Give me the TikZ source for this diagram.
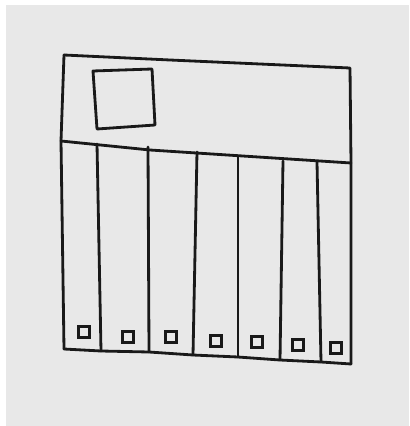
\documentclass[tikz,border=0pt]{standalone}
\usepackage{tikz}
\usetikzlibrary{positioning}

\begin{document}
\begin{tikzpicture}[
  x=0.025cm, y=-0.025cm,
  ink/.style={draw=black!90, line width=2pt, line join=round, line cap=round},
  cell/.style={draw=black!90, line width=2pt, minimum size=0.27cm, inner sep=0pt}
]
% paper
\fill[white] (0,0) rectangle (409,426);
\fill[black!9] (6,5) rectangle (409,426);
\useasboundingbox (0,0) rectangle (409,426);
% frame
\coordinate (tl) at (64,55);
\coordinate (tr) at (350,68);
\coordinate (ml) at (61,141);
\coordinate (mr) at (351,163);
\coordinate (bl) at (64,349);
\coordinate (br) at (351,364);
\draw[ink] (tl) -- (170,60) -- (tr) -- (mr) -- (br);
\draw[ink] (tl) -- (ml) -- (bl);
\draw[ink] (ml) -- (150,150) -- (mr);
\draw[ink] (bl) -- (101,351) -- (149,352) -- (193,355) -- (238,357) -- (280,360) -- (321,362) -- (br);
% window in the upper part
\draw[ink] (93,71) -- (152,69) -- (155,125) -- (97,129) -- cycle;
% dividers
\foreach \xt/\yt/\xb/\yb in {97/144/101/351, 148/147/149/352, 197/152/193/355,
  238/157/238/357, 283/161/280/360, 317/162/321/362}
  \draw[ink] (\xt,\yt) -- (\xb,\yb);
% small boxes
\foreach \cx/\cy [count=\i] in {84/332, 128/337, 171/337, 216/341, 257/342, 298/345, 336/348}
  \node[cell] (c\i) at (\cx,\cy) {};
\end{tikzpicture}
\end{document}
